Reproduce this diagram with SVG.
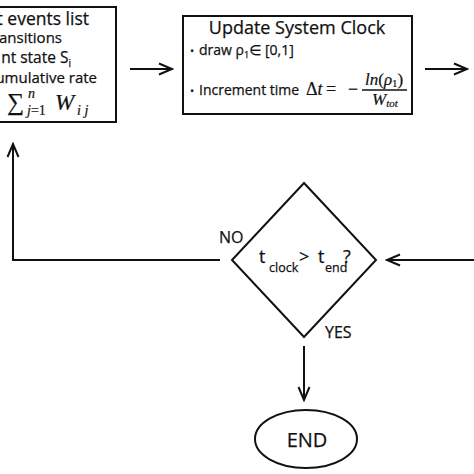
<svg xmlns="http://www.w3.org/2000/svg" width="474" height="474" viewBox="0 0 474 474">
<style>
.box{fill:#fff;stroke:#111;stroke-width:2}
.ln{fill:none;stroke:#111;stroke-width:2}
.sans{font-family:"Open Sans","Noto Sans","DejaVu Sans",sans-serif;fill:#111;stroke:#111;stroke-width:0.25}
.serif{font-family:"Liberation Serif","DejaVu Serif",serif;fill:#111;stroke:#111;stroke-width:0.2}
.it{font-style:italic}
</style>
<defs>
<marker id="arr" viewBox="-14 -7 16 14" markerWidth="16" markerHeight="14" refX="0" refY="0" orient="auto" markerUnits="userSpaceOnUse">
<path d="M-13,-5.5 L0,0 L-13,5.5" fill="none" stroke="#111" stroke-width="2"/>
</marker>
</defs>
<rect width="474" height="474" fill="#fff"/>

<g id="events-list">
<rect class="box" x="-10" y="7" width="126" height="115"/>
<text class="sans" x="89" y="25" font-size="17.5" text-anchor="end">t events list</text>
<text class="sans" x="62" y="43" font-size="15" text-anchor="end">ansitions</text>
<text class="sans" x="71" y="63" font-size="15.5" text-anchor="end">nt state S<tspan font-size="10" dy="4">i</tspan></text>
<text class="sans" x="97" y="83" font-size="15" text-anchor="end">umulative rate</text>
<text class="serif" x="7" y="110" font-size="24">∑</text>
<text class="serif it" x="28" y="98" font-size="14">n</text>
<text class="serif" x="27" y="115" font-size="14"><tspan class="it">j</tspan>=1</text>
<text class="serif it" x="55" y="110" font-size="23">W</text>
<text class="serif it" x="77" y="115" font-size="14">i j</text>
</g>

<g id="update-clock">
<rect class="box" x="183" y="16" width="229" height="98"/>
<text class="sans" x="297" y="34" font-size="18" text-anchor="middle">Update System Clock</text>
<text class="sans" font-size="14" y="55"><tspan x="190" font-size="11">•</tspan><tspan x="199">draw ρ</tspan><tspan font-size="9" dy="3">1</tspan><tspan dy="-3">∈ [0,1]</tspan></text>
<text class="sans" font-size="14" y="95"><tspan x="190" font-size="11">•</tspan><tspan x="199">Increment time</tspan></text>
<text class="serif" font-size="18" x="306" y="95">Δ<tspan class="it">t</tspan></text>
<text class="serif" font-size="18" x="326" y="95">=</text>
<text class="serif" font-size="18" x="348" y="95">−</text>
<text class="serif" font-size="17" x="365" y="85"><tspan class="it">ln</tspan>(<tspan class="it">ρ</tspan><tspan font-size="11" dy="2">1</tspan><tspan dy="-2">)</tspan></text>
<line x1="362" y1="90" x2="407" y2="90" stroke="#111" stroke-width="1.3"/>
<text class="serif it" font-size="17" x="372" y="105">W<tspan font-size="11" dy="2">tot</tspan></text>
</g>

<g id="decision">
<polygon class="box" points="304,183 376,260 304,337 232,260"/>
<text class="sans" font-size="18" x="259" y="263">t</text>
<text class="sans" font-size="12.5" x="269" y="272">clock</text>
<text class="sans" font-size="18" x="299" y="263">&gt;</text>
<text class="sans" font-size="18" x="318" y="263">t</text>
<text class="sans" font-size="12.5" x="325" y="272">end</text>
<text class="sans" font-size="18" x="343" y="263">?</text>
</g>

<g id="end">
<ellipse class="box" cx="306" cy="439" rx="51" ry="29"/>
<text class="sans" x="307" y="447" font-size="20" text-anchor="middle">END</text>
</g>

<g id="connectors">
<line class="ln" x1="130" y1="69" x2="172" y2="69" marker-end="url(#arr)"/>
<line class="ln" x1="425" y1="69" x2="467" y2="69" marker-end="url(#arr)"/>
<line class="ln" x1="476" y1="260" x2="387" y2="260" marker-end="url(#arr)"/>
<polyline class="ln" points="220,260 13,260 13,144" marker-end="url(#arr)"/>
<line class="ln" x1="304" y1="346" x2="304" y2="400" marker-end="url(#arr)"/>
</g>

<g id="labels">
<text class="sans" x="219" y="243" font-size="16">NO</text>
<text class="sans" x="325" y="338" font-size="16">YES</text>
</g>
</svg>
